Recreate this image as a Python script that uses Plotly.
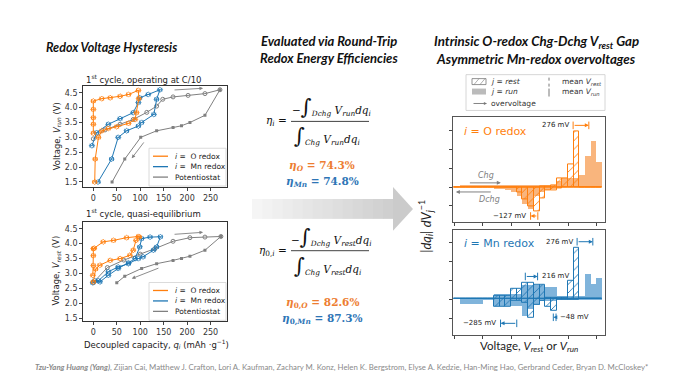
import numpy as np
import plotly.graph_objects as go

# the page body keeps its default 8 px margin, so the figure is drawn 8 px in
W, H = 682, 383
PAGE_MARGIN = 8
FIG_W, FIG_H = W - PAGE_MARGIN, H - PAGE_MARGIN
ORANGE = "#ff7f0e"
BLUE = "#1f77b4"
GRAY = "#808080"
ORANGE_TXT = "#ed7d31"
BLUE_TXT = "#2e75b6"
MPL_FONT = "DejaVu Sans"
SLIDE_FONT = "Lato"
SERIF = "DejaVu Serif"

# 1st cycle at C/10: decoupled capacity (mAh/g) vs V_run
q_o_run = [0, 0, 0, 0, 0, 18, 36, 57, 75, 96, 97, 92, 89, 75, 50, 32, 18, 11, 4, 3]
v_o_run = [3.14, 3.44, 3.66, 3.94, 4.22, 4.30, 4.33, 4.38, 4.44, 4.58,
           4.30, 3.83, 3.60, 3.47, 3.36, 3.30, 3.22, 3.00, 2.27, 1.50]
q_mn_run = [-3, 7, 32, 57, 85, 96, 99, 117, 142, 135, 129, 103, 96, 71, 53, 39, 10]
v_mn_run = [2.72, 3.16, 3.44, 3.63, 3.83, 4.17, 4.33, 4.44, 4.60,
            4.28, 3.77, 3.50, 3.38, 3.22, 3.00, 2.27, 1.50]
q_pot_run_chg = [0, 25, 57, 85, 114, 135, 148, 170, 202, 238, 270]
v_pot_run_chg = [2.95, 3.25, 3.44, 3.60, 3.84, 4.05, 4.28, 4.36, 4.41, 4.47, 4.60]
q_pot_run_dchg = [270, 238, 206, 188, 170, 135, 101, 67, 40]
v_pot_run_dchg = [4.60, 3.74, 3.50, 3.39, 3.33, 3.22, 3.00, 2.27, 1.50]

# 1st cycle quasi-equilibrium: decoupled capacity vs V_rest
q_o_rest = [-1, 0, 0, 0, 2, 21, 43, 71, 96, 98, 91, 85, 78, 57, 36, 14, 5, 0]
v_o_rest = [2.94, 3.27, 3.60, 3.83, 3.85, 4.06, 4.11, 4.20, 4.24,
            4.22, 4.11, 3.78, 3.61, 3.50, 3.44, 3.28, 3.15, 2.72]
q_mn_rest = [3, 14, 32, 53, 75, 89, 99, 103, 121, 143, 135, 128, 106, 96, 75, 53, 32, 11, -1]
v_mn_rest = [2.76, 2.72, 2.94, 3.17, 3.36, 3.50, 3.89, 4.17, 4.22, 4.23,
             3.89, 3.78, 3.56, 3.50, 3.33, 3.22, 3.06, 2.76, 2.69]
q_pot_rest_chg = [0, 30, 65, 100, 131, 170, 206, 238, 272]
v_pot_rest_chg = [2.70, 3.20, 3.45, 3.65, 3.83, 4.08, 4.20, 4.22, 4.24]
q_pot_rest_dchg = [272, 238, 206, 188, 170, 135, 103, 67, 50]
v_pot_rest_dchg = [4.24, 3.78, 3.58, 3.50, 3.44, 3.33, 3.17, 2.91, 2.69]

# |dq_i| dV_j^-1 histograms, 0.1 V bins starting at 2.0 V
bin_left = np.round(np.arange(2.0, 4.6, 0.1), 2)
o_run_chg = [0, .07, .07, .07, .07, .07, .07, .07, .07, .07, .07, .07, .07,
             .07, .07, .07, .08, .1, .3, .47, .47, .47, .6, 1.6, 2.4, 1.3]
o_run_dchg = [0, -.03, -.03, -.03, -.03, -.03, -.03, -.1, -.1, -.2, -.3, -.5, -.9,
              -1.2, -.5, -.3, -.2, -.1, -.05, -.03, -.03, -.03, -.03, 0, 0, 0]
o_rest_chg = [0, 0, 0, 0, 0, 0, 0, 0, 0, 0, 0, 0, 0,
              0, 0, .05, .05, .1, .47, .47, 1.2, 2.96, 0, 0, 0, 0]
o_rest_dchg = [0, 0, 0, 0, 0, 0, 0, 0, 0, 0, 0, -.3, -.63,
               -1.0, -1.3, -.6, -.2, -.2, -.05, 0, 0, 0, 0, 0, 0, 0]
mn_run_chg = [0, .08, .08, .08, .08, .03, .03, .3, .3, .3, .3, .3, .74,
              .74, .74, .74, .65, .65, .2, .2, .2, .2, .2, 1.35, .8, 1.15]
mn_run_dchg = [0, -.25, -.25, -.25, -.25, -.05, -.05, -.35, -.35, -.35, -.35, -.35, -.9,
               -.5, -.3, -.1, -.1, -.1, -.05, -.05, -.05, -.05, -.05, -.05, -.05, -.05]
mn_rest_chg = [0, 0, 0, 0, 0, 0, 0, .2, .2, .2, .53, .53, .88,
               .88, .74, .74, .05, .05, .05, .05, .95, 2.7, 0, 0, 0, 0]
mn_rest_dchg = [0, 0, 0, 0, 0, 0, 0, -.4, -.4, -.4, -.1, -.1, -.2,
                -1.0, -.3, -.1, -.4, -.6, -.05, -.05, -.05, -.05, 0, 0, 0, 0]

# overvoltage brackets: (start V, shift in mV, height)
o_overvoltages = [(4.09, 276, 3.26), (3.47, -127, -1.53)]
mn_overvoltages = [(4.16, 276, 3.04), (3.25, 216, 1.2), (3.10, -285, -1.28), (3.79, -48, -0.96)]

efficiencies_run = {"O": 74.3, "Mn": 74.8}
efficiencies_rest = {"O": 82.6, "Mn": 87.3}

legend_names = ["<i>i</i> =  O redox", "<i>i</i> =  Mn redox", "Potentiostat"]
legend_colors = [ORANGE, BLUE, GRAY]


def px(x):
    return (x - PAGE_MARGIN) / FIG_W


def py(y):
    return 1 - (y - PAGE_MARGIN) / FIG_H


fig = go.Figure()
shapes = []
annotations = []


def note(x, y, text, size, color="#222", family=MPL_FONT, xanchor="center", **kw):
    """Text placed in slide pixels."""
    annotations.append(dict(xref="paper", yref="paper", x=px(x), y=py(y), text=text,
                            showarrow=False, xanchor=xanchor, yanchor="middle",
                            font=dict(family=family, size=size, color=color), **kw))


def add_redox(q, v, color, xa, ya):
    fig.add_trace(go.Scatter(
        x=q, y=v, mode="lines+markers", xaxis=xa, yaxis=ya, showlegend=False,
        line=dict(color=color, width=1),
        marker=dict(symbol="diamond-open", size=4, color=color, line=dict(width=0.8)),
        error_x=dict(type="constant", value=4, thickness=0.8, width=2, color=color),
    ))


def add_pot(qc, vc, qd, vd, xa, ya):
    fig.add_trace(go.Scatter(
        x=qc, y=vc, mode="lines+markers", xaxis=xa, yaxis=ya, showlegend=False,
        line=dict(color=GRAY, width=1),
        marker=dict(symbol="circle-open", size=4, color=GRAY),
    ))
    fig.add_trace(go.Scatter(
        x=qd, y=vd, mode="lines+markers", xaxis=xa, yaxis=ya, showlegend=False,
        line=dict(color=GRAY, width=1),
        marker=dict(symbol="square", size=3, color=GRAY),
    ))


add_pot(q_pot_run_chg, v_pot_run_chg, q_pot_run_dchg, v_pot_run_dchg, "x", "y")
add_redox(q_mn_run, v_mn_run, BLUE, "x", "y")
add_redox(q_o_run, v_o_run, ORANGE, "x", "y")
add_pot(q_pot_rest_chg, v_pot_rest_chg, q_pot_rest_dchg, v_pot_rest_dchg, "x2", "y2")
add_redox(q_mn_rest, v_mn_rest, BLUE, "x2", "y2")
add_redox(q_o_rest, v_o_rest, ORANGE, "x2", "y2")


def add_legend(top):
    shapes.append(dict(type="rect", xref="paper", yref="paper", x0=px(149), x1=px(226),
                       y0=py(top), y1=py(top + 38), line=dict(color="#d0d0d0", width=0.8),
                       fillcolor="rgba(255,255,255,0.85)"))
    for k, (name, color) in enumerate(zip(legend_names, legend_colors)):
        yk = top + 8 + 10.5 * k
        shapes.append(dict(type="line", xref="paper", yref="paper", x0=px(153), x1=px(168),
                           y0=py(yk), y1=py(yk), line=dict(color=color, width=1.3)))
        note(173, yk, name, 7.5, xanchor="left")


add_legend(149)
add_legend(284)


def add_hist(run_chg, run_dchg, rest_chg, rest_dchg, color, fill, xa, ya):
    centers = bin_left + 0.05
    for vals in [run_chg, run_dchg]:
        fig.add_trace(go.Bar(x=centers, y=vals, width=0.1, xaxis=xa, yaxis=ya,
                             showlegend=False, marker=dict(color=fill, line=dict(width=0))))
    for vals in [rest_chg, rest_dchg]:
        fig.add_trace(go.Bar(
            x=centers, y=vals, width=0.1, xaxis=xa, yaxis=ya, showlegend=False,
            marker=dict(color="rgba(255,255,255,0)", line=dict(color=color, width=1),
                        pattern=dict(shape="/", fgcolor=color, bgcolor="rgba(0,0,0,0)",
                                     size=6, solidity=0.15, fillmode="replace")),
        ))


add_hist(o_run_chg, o_run_dchg, o_rest_chg, o_rest_dchg, ORANGE, "rgba(247,150,70,0.7)", "x3", "y3")
add_hist(mn_run_chg, mn_run_dchg, mn_rest_chg, mn_rest_dchg, BLUE, "rgba(60,140,200,0.65)", "x4", "y4")


def brackets(items, color, xr, yr):
    for start, mv, yv in items:
        end = start + mv / 1000
        for xv in [start, end]:
            shapes.append(dict(type="line", xref=xr, yref=yr, x0=xv, x1=xv, y0=yv - 0.2,
                               y1=yv + 0.2, line=dict(color=color, width=1)))
        annotations.append(dict(xref=xr, yref=yr, axref=xr, ayref=yr, x=end, y=yv, ax=start,
                                ay=yv, text="", showarrow=True, arrowhead=2, arrowsize=0.8,
                                arrowwidth=1, arrowcolor=color))
        label = f"{mv} mV".replace("-", "−")
        right = mv in (216, -48)
        annotations.append(dict(xref=xr, yref=yr,
                                x=max(start, end) + 0.04 if right else min(start, end) - 0.04,
                                y=yv, text=label, xanchor="left" if right else "right",
                                yanchor="middle", showarrow=False,
                                font=dict(family=MPL_FONT, size=7, color="#222")))


brackets(o_overvoltages, ORANGE, "x3", "y3")
brackets(mn_overvoltages, BLUE, "x4", "y4")

# Chg / Dchg arrows and panel labels
annotations += [
    dict(xref="x3", yref="y3", axref="x3", ayref="y3", x=2.82, y=0.22, ax=2.25, ay=0.22,
         text="", showarrow=True, arrowhead=2, arrowsize=0.8, arrowwidth=1, arrowcolor=GRAY),
    dict(xref="x3", yref="y3", axref="x3", ayref="y3", x=2.03, y=-0.26, ax=2.67, ay=-0.26,
         text="", showarrow=True, arrowhead=2, arrowsize=0.8, arrowwidth=1, arrowcolor=GRAY),
    dict(xref="x3", yref="y3", x=2.56, y=0.6, text="<i>Chg</i>", showarrow=False,
         xanchor="center", yanchor="middle", font=dict(family=MPL_FONT, size=8, color=GRAY)),
    dict(xref="x3", yref="y3", x=2.62, y=-0.65, text="<i>Dchg</i>", showarrow=False,
         xanchor="center", yanchor="middle", font=dict(family=MPL_FONT, size=8, color=GRAY)),
    dict(xref="x3", yref="y3", x=2.13, y=2.95, xanchor="left", yanchor="middle", showarrow=False,
         text="<i>i</i> = O redox", font=dict(family=MPL_FONT, size=11, color=ORANGE)),
    dict(xref="x4", yref="y4", x=2.13, y=2.95, xanchor="left", yanchor="middle", showarrow=False,
         text="<i>i</i> = Mn redox", font=dict(family=MPL_FONT, size=11, color=BLUE)),
]

# potentiostat direction arrows
for xa, ya, a in [("x", "y", (170, 4.59, 234, 4.65)), ("x", "y", (110, 2.88, 82, 2.30)),
                  ("x2", "y2", (170, 4.31, 234, 4.38)), ("x2", "y2", (142, 3.20, 82, 2.83))]:
    annotations.append(dict(xref=xa, yref=ya, axref=xa, ayref=ya, x=a[2], y=a[3], ax=a[0],
                            ay=a[1], text="", showarrow=True, arrowhead=2, arrowsize=0.8,
                            arrowwidth=0.9, arrowcolor=GRAY))

# section titles
note(111, 48, "<b><i>Redox Voltage Hysteresis</i></b>", 12.5, "#111", SLIDE_FONT)
note(329, 41, "<b><i>Evaluated via Round-Trip</i></b>", 13, "#111", SLIDE_FONT)
note(329, 58, "<b><i>Redox Energy Efficiencies</i></b>", 13, "#111", SLIDE_FONT)
note(536, 42, "<b><i>Intrinsic O-redox Chg-Dchg V<sub>rest</sub> Gap</i></b>", 13.3, "#111", SLIDE_FONT)
note(536, 59, "<b><i>Asymmetric Mn-redox overvoltages</i></b>", 13.3, "#111", SLIDE_FONT)

# capacity plot labels
note(84, 79, "1<sup>st</sup> cycle, operating at C/10", 8.5, xanchor="left")
note(84, 214, "1<sup>st</sup> cycle, quasi-equilibrium", 8.5, xanchor="left")
note(57, 137, "Voltage, <i>V<sub>run</sub></i> (V)", 8.5, textangle=-90)
note(57, 272, "Voltage, <i>V<sub>rest</sub></i> (V)", 8.5, textangle=-90)
note(156, 346, "Decoupled capacity, <i>q<sub>i</sub></i> (mAh ·g<sup>−1</sup>)", 8.5)
note(529, 348, "Voltage, <i>V<sub>rest</sub></i> or <i>V<sub>run</sub></i>", 11.5, family=SLIDE_FONT)
note(426, 228, "|<i>dq<sub>i</sub></i>| <i>dV<sub>j</sub></i><sup>−1</sup>", 13,
     family=SLIDE_FONT, textangle=-90)

# efficiency equations
INT = "<span style='font-size:21px'>∫</span>"
for (yb, lhs, vsub) in [(122, "<i>η<sub>i</sub></i> =", "run"),
                        (252, "<i>η</i><sub>0,<i>i</i></sub> =", "rest")]:
    note(289, yb, lhs, 10.5, "#111", SERIF, xanchor="right")
    note(331, yb - 14, f"−{INT}<sub><i>Dchg</i></sub> <i>V<sub>{vsub}</sub>dq<sub>i</sub></i>",
         10.5, "#111", SERIF)
    note(327, yb + 15, f"{INT}<sub><i>Chg</i></sub> <i>V<sub>{vsub}</sub>dq<sub>i</sub></i>",
         10.5, "#111", SERIF)
    shapes.append(dict(type="line", xref="paper", yref="paper", x0=px(291), x1=px(369),
                       y0=py(yb), y1=py(yb), line=dict(color="#111", width=0.8)))

for (y, sub, eff) in [(167, "", efficiencies_run), (305, "0,", efficiencies_rest)]:
    for k, (name, color) in enumerate([("O", ORANGE_TXT), ("Mn", BLUE_TXT)]):
        note(322, y + 16 * k, f"<b><i>η</i><sub>{sub}<i>{name}</i></sub> = {eff[name]}%</b>",
             10.5, color, SERIF)

# big gradient arrow
n_strips = 14
x_start, x_head = 252, 393
for k in range(n_strips):
    x0 = x_start + (x_head - x_start) * k / n_strips
    x1 = x_start + (x_head - x_start) * (k + 1) / n_strips + 0.5
    g = int(245 - 40 * k / n_strips)
    shapes.append(dict(type="rect", xref="paper", yref="paper", x0=px(x0), x1=px(x1),
                       y0=py(220), y1=py(200), line=dict(width=0),
                       fillcolor=f"rgb({g},{g},{g})"))
shapes.append(dict(type="path", xref="paper", yref="paper", line=dict(width=0),
                   fillcolor="rgb(203,203,203)",
                   path=f"M {px(x_head)} {py(188)} L {px(413)} {py(210)} L {px(x_head)} {py(232)} Z"))

# right-hand legend box
shapes += [
    dict(type="rect", xref="paper", yref="paper", x0=px(466), x1=px(605), y0=py(75), y1=py(111),
         line=dict(color="#ccc", width=0.8), fillcolor="white"),
    dict(type="rect", xref="paper", yref="paper", x0=px(472), x1=px(486), y0=py(79), y1=py(85),
         line=dict(color="#777", width=0.8)),
    dict(type="line", xref="paper", yref="paper", x0=px(474), x1=px(479), y0=py(85), y1=py(79),
         line=dict(color="#777", width=0.6)),
    dict(type="line", xref="paper", yref="paper", x0=px(480), x1=px(485), y0=py(85), y1=py(79),
         line=dict(color="#777", width=0.6)),
    dict(type="rect", xref="paper", yref="paper", x0=px(472), x1=px(486), y0=py(89), y1=py(95),
         line=dict(width=0), fillcolor="#bbb"),
    dict(type="line", xref="paper", yref="paper", x0=px(549), x1=px(549), y0=py(78), y1=py(87),
         line=dict(color="#555", width=0.8, dash="dot")),
    dict(type="line", xref="paper", yref="paper", x0=px(549), x1=px(549), y0=py(89), y1=py(97),
         line=dict(color="#555", width=0.8)),
]
annotations.append(dict(xref="paper", yref="paper", x=px(487), y=py(104), ax=-15, ay=0,
                        text="", showarrow=True, arrowhead=2, arrowsize=0.7, arrowwidth=0.9,
                        arrowcolor="#777"))
for x, y, txt in [(489, 82, "<i>j</i> = <i>rest</i>"), (489, 92, "<i>j</i> = <i>run</i>"),
                  (489, 104, "overvoltage"), (560, 82, "mean <i>V<sub>rest</sub></i>"),
                  (560, 92, "mean <i>V<sub>run</sub></i>")]:
    note(x, y, txt, 7.5, "#333", xanchor="left")

note(341, 369,
     "<b><i>Tzu-Yang Huang (Yang)</i></b>, Zijian Cai, Matthew J. Crafton, Lori A. Kaufman, "
     "Zachary M. Konz, Helen K. Bergstrom, Elyse A. Kedzie, Han-Ming Hao, Gerbrand Ceder, "
     "Bryan D. McCloskey*", 7.8, "#8a8a8a", SLIDE_FONT)

cap_x = dict(range=[-22, 285], tickvals=[0, 50, 100, 150, 200, 250], ticks="outside", ticklen=3,
             tickfont=dict(family=MPL_FONT, size=8, color="#333"), showline=True, mirror=True,
             linecolor="#333", linewidth=0.8, showgrid=False, zeroline=False,
             domain=[px(83), px(227)])
cap_y = dict(tickvals=[1.5, 2.0, 2.5, 3.0, 3.5, 4.0, 4.5], tickformat=".1f", ticks="outside",
             ticklen=3, tickfont=dict(family=MPL_FONT, size=8, color="#333"), showline=True,
             mirror=True, linecolor="#333", linewidth=0.8, showgrid=False, zeroline=False)
hist_x = dict(range=[1.98, 4.65], tickvals=[2.0, 2.5, 3.0, 3.5, 4.0, 4.5], ticks="outside",
              ticklen=3, showticklabels=False, showline=True, mirror=True, linecolor="#555",
              linewidth=0.8, showgrid=False, zeroline=False, domain=[px(453), px(605)])
hist_y = dict(tickvals=[-1, 0, 1, 2, 3], ticks="outside", ticklen=3, showticklabels=False,
              showline=True, mirror=True, linecolor="#555", linewidth=0.8, showgrid=False,
              zeroline=False)

fig.update_layout(
    width=FIG_W, height=FIG_H, margin=dict(l=0, r=0, t=0, b=0), showlegend=False,
    paper_bgcolor="white", plot_bgcolor="white", barmode="overlay", bargap=0,
    xaxis=dict(cap_x, anchor="y"),
    yaxis=dict(cap_y, anchor="x", range=[1.33, 4.74], domain=[py(188), py(86)]),
    xaxis2=dict(cap_x, anchor="y2"),
    yaxis2=dict(cap_y, anchor="x2", range=[1.40, 4.73], domain=[py(323), py(223)]),
    xaxis3=dict(hist_x, anchor="y3"),
    yaxis3=dict(hist_y, anchor="x3", range=[-1.84, 3.68], domain=[py(223), py(118)]),
    xaxis4=dict(hist_x, anchor="y4"),
    yaxis4=dict(hist_y, anchor="x4", range=[-1.91, 3.67], domain=[py(337), py(231)]),
    shapes=shapes, annotations=annotations,
)

fig.write_html("out.html")
